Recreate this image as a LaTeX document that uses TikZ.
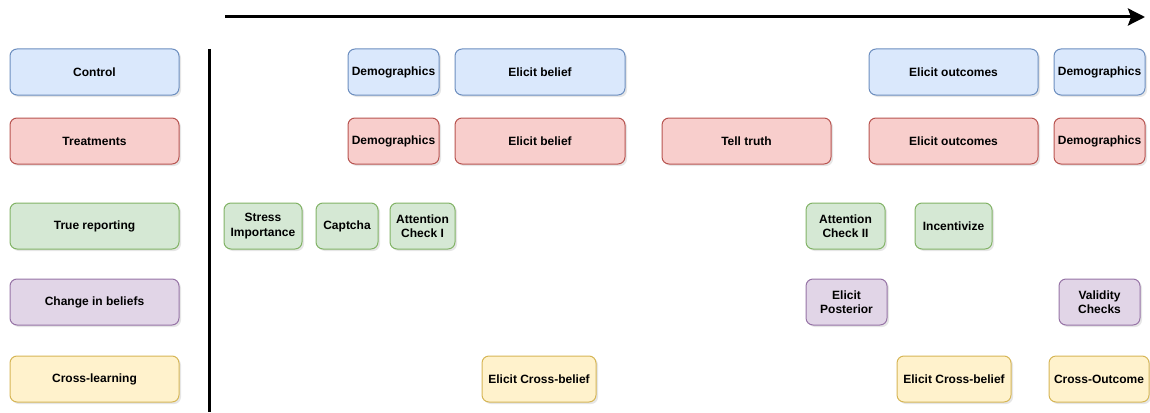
\documentclass[tikz,border=0pt]{standalone}
\usepackage{fontspec}
\setmainfont{Liberation Sans}
\usetikzlibrary{arrows.meta,shadows}

\definecolor{ctrlfill}{HTML}{DAE8FC}\definecolor{ctrldraw}{HTML}{6C8EBF}
\definecolor{treatfill}{HTML}{F8CECC}\definecolor{treatdraw}{HTML}{B85450}
\definecolor{truefill}{HTML}{D5E8D4}\definecolor{truedraw}{HTML}{82B366}
\definecolor{chgfill}{HTML}{E1D5E7}\definecolor{chgdraw}{HTML}{9673A6}
\definecolor{crossfill}{HTML}{FFF2CC}\definecolor{crossdraw}{HTML}{D6B656}

\tikzset{
  phase/.style={rectangle,rounded corners=7pt,line width=1pt,minimum height=46pt,
    inner sep=1pt,align=center,font=\fontsize{12}{14.5}\selectfont\bfseries,
    drop shadow={shadow xshift=2pt,shadow yshift=-2pt,opacity=0.2}},
  ctrlbox/.style={phase,fill=ctrlfill,draw=ctrldraw},
  treatbox/.style={phase,fill=treatfill,draw=treatdraw},
  truebox/.style={phase,fill=truefill,draw=truedraw},
  chgbox/.style={phase,fill=chgfill,draw=chgdraw},
  crossbox/.style={phase,fill=crossfill,draw=crossdraw},
}

\begin{document}
\begin{tikzpicture}[x=1pt,y=-1pt,>={Stealth[length=17pt,width=17pt,inset=3pt]}]
\useasboundingbox (0,0) rectangle (1150,412);

% group labels
\node[ctrlbox,minimum width=169pt]  (control)   at (94.5,72)  {Control};
\node[treatbox,minimum width=169pt] (treat)     at (94.5,141) {Treatments};
\node[truebox,minimum width=169pt]  (truerep)   at (94.5,226) {True reporting};
\node[chgbox,minimum width=169pt]   (change)    at (94.5,302) {Change in beliefs};
\node[crossbox,minimum width=169pt] (crosslrn)  at (94.5,379) {Cross-learning};

% control
\node[ctrlbox,minimum width=91pt]  (cdemoA) at (393.5,72)  {Demographics};
\node[ctrlbox,minimum width=170pt] (cbelief) at (540,72)   {Elicit belief};
\node[ctrlbox,minimum width=169pt] (coutcome) at (953.5,72) {Elicit outcomes};
\node[ctrlbox,minimum width=91pt]  (cdemoB) at (1099.5,72) {Demographics};

% treatments
\node[treatbox,minimum width=91pt]  (tdemoA) at (393.5,141)  {Demographics};
\node[treatbox,minimum width=170pt] (tbelief) at (540,141)   {Elicit belief};
\node[treatbox,minimum width=169pt] (ttruth) at (746.5,141)  {Tell truth};
\node[treatbox,minimum width=169pt] (toutcome) at (953.5,141) {Elicit outcomes};
\node[treatbox,minimum width=91pt]  (tdemoB) at (1099.5,141) {Demographics};

% true reporting
\node[truebox,minimum width=78pt] (stress)  at (263,226)   {Stress\\Importance};
\node[truebox,minimum width=62pt] (captcha) at (347,226)   {Captcha};
\node[truebox,minimum width=65pt] (attnA)   at (422.5,226) {Attention\\Check I};
\node[truebox,minimum width=79pt] (attnB)   at (845.5,226) {Attention\\Check II};
\node[truebox,minimum width=77pt] (incent)  at (953.5,226) {Incentivize};

% change in beliefs
\node[chgbox,minimum width=81pt] (posterior) at (846.5,302)  {Elicit\\Posterior};
\node[chgbox,minimum width=81pt] (validity)  at (1099.5,302) {Validity\\Checks};

% cross-learning
\node[crossbox,minimum width=114pt] (xbeliefA) at (539,379)  {Elicit Cross-belief};
\node[crossbox,minimum width=114pt] (xbeliefB) at (954,379)  {Elicit Cross-belief};
\node[crossbox,minimum width=100pt] (xoutcome) at (1099,379) {Cross-Outcome};

% time axis and divider
\coordinate (tstart) at (225,17);
\coordinate (tend)   at (1145,17);
\draw[->,line width=3pt] (tstart) -- (tend);
\coordinate (divtop) at (209,49);
\coordinate (divbot) at (209,412);
\draw[line width=3pt] (divtop) -- (divbot);
\end{tikzpicture}
\end{document}
